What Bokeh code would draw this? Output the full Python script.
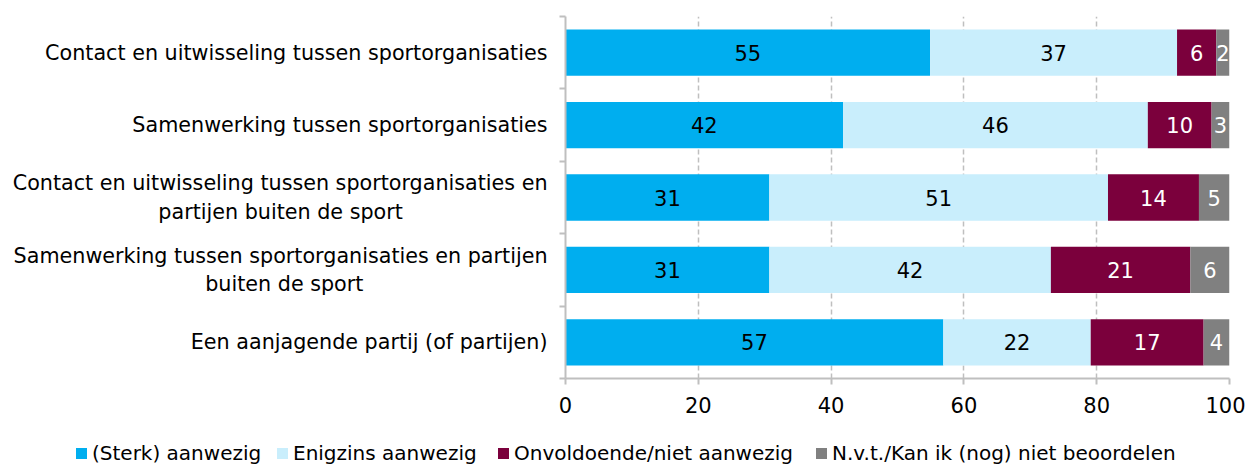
from bokeh.plotting import figure
from bokeh.models import ColumnDataSource, FixedTicker, Div
from bokeh.layouts import column
from bokeh.embed import file_html
from bokeh.resources import INLINE
from bokeh.core.properties import value

NB = "\u00a0"
categories = [
    "Contact en uitwisseling tussen sportorganisaties",
    "Samenwerking tussen sportorganisaties",
    "Contact en uitwisseling tussen sportorganisaties en\npartijen buiten de sport",
    "Samenwerking tussen sportorganisaties en partijen\nbuiten de sport",
    "Een aanjagende partij (of partijen)",
]
# trailing no-break spaces used to centre the second line of wrapped labels
second_line_pad = [0, 0, 22, 28, 0]
series_names = ["(Sterk) aanwezig", "Enigzins aanwezig", "Onvoldoende/niet aanwezig", "N.v.t./Kan ik (nog) niet beoordelen"]
sterk = [54.9, 41.8, 30.7, 30.7, 56.9]
enigzins = [37.2, 45.9, 51.0, 42.4, 22.2]
onvoldoende = [5.9, 9.6, 13.7, 21.0, 17.0]
nvt = [2.0, 2.7, 4.6, 5.9, 3.9]
labels_sterk = [55, 42, 31, 31, 57]
labels_enigzins = [37, 46, 51, 42, 22]
labels_onvoldoende = [6, 10, 14, 21, 17]
labels_nvt = [2, 3, 5, 6, 4]
x_ticks = [0, 20, 40, 60, 80, 100]

colors = ["#00AEEF", "#C9EEFC", "#7B003C", "#808080"]
text_colors = ["black", "black", "white", "white"]
FONT = "DejaVu Sans"
legend_item_left = [76, 277, 498, 816]  # layout positions of legend entries (px)

n = len(categories)
ypos = [n - 0.5 - i for i in range(n)]
display_cats = [c + NB * k if k else c for c, k in zip(categories, second_line_pad)]

series = [sterk, enigzins, onvoldoende, nvt]
series_labels = [labels_sterk, labels_enigzins, labels_onvoldoende, labels_nvt]

p = figure(output_backend="svg", toolbar_location=None,
           x_range=(0, 100), y_range=(0, n),
           min_border_left=565, min_border_right=16, min_border_top=16, min_border_bottom=47)
p.frame_width = 664
p.frame_height = 362
p.outline_line_color = None

left = [0.0] * n
for vals, labs, col, tcol in zip(series, series_labels, colors, text_colors):
    right = [l + v for l, v in zip(left, vals)]
    src = ColumnDataSource(dict(y=ypos, left=left, right=right,
                                xm=[(l + r) / 2 for l, r in zip(left, right)],
                                lab=[str(v) for v in labs]))
    p.hbar(y="y", left="left", right="right", height=0.64, source=src,
           fill_color=col, line_color=None)
    p.text(x="xm", y="y", text="lab", source=src, text_align="center", text_baseline="middle",
           text_color=tcol, text_font=value(FONT), text_font_size="21px")
    left = right

# grid
p.ygrid.grid_line_color = None
p.xgrid.ticker = FixedTicker(ticks=x_ticks[1:])
p.xgrid.grid_line_color = "#BFBFBF"
p.xgrid.grid_line_width = 1.5
p.xgrid.grid_line_dash = "5 3"

# x axis
p.xaxis.ticker = FixedTicker(ticks=x_ticks)
p.xaxis.axis_line_color = "#BFBFBF"
p.xaxis.axis_line_width = 2
p.xaxis.major_tick_line_color = "#BFBFBF"
p.xaxis.major_tick_line_width = 2
p.xaxis.major_tick_in = 0
p.xaxis.major_tick_out = 6
p.xaxis.minor_tick_line_color = None
p.xaxis.major_label_text_font = FONT
p.xaxis.major_label_text_font_size = "21px"
p.xaxis.major_label_text_color = "black"
p.xaxis.major_label_standoff = 12

# y axis
p.yaxis.ticker = FixedTicker(ticks=ypos, minor_ticks=list(range(n + 1)))
p.yaxis.major_label_overrides = {y: c for y, c in zip(ypos, display_cats)}
p.yaxis.axis_line_color = "#BFBFBF"
p.yaxis.axis_line_width = 2
p.yaxis.major_tick_line_color = None
p.yaxis.minor_tick_line_color = "#BFBFBF"
p.yaxis.minor_tick_line_width = 2
p.yaxis.minor_tick_in = 0
p.yaxis.minor_tick_out = 6
p.yaxis.major_label_text_font = FONT
p.yaxis.major_label_text_font_size = "20.7px"
p.yaxis.major_label_text_color = "black"
p.yaxis.major_label_standoff = 12

# legend as an HTML strip below the plot
entries = []
for name, col, lx in zip(series_names, colors, legend_item_left):
    entries.append(
        f'<span style="position:absolute;left:{lx}px;top:18px;display:flex;align-items:center;'
        f'line-height:20px;">'
        f'<span style="display:inline-block;width:11px;height:11px;background:{col};margin-right:5px;"></span>'
        f'{name}</span>'
    )
legend_html = (
    f'<div style="position:relative;width:1245px;height:40px;font-family:\'{FONT}\';'
    f'font-size:20px;color:black;white-space:nowrap;">' + "".join(entries) + "</div>"
)
legend_div = Div(text=legend_html, width=1245, height=40, margin=0)

layout = column(p, legend_div, spacing=0)
open("out.html", "w").write(file_html(layout, INLINE))
